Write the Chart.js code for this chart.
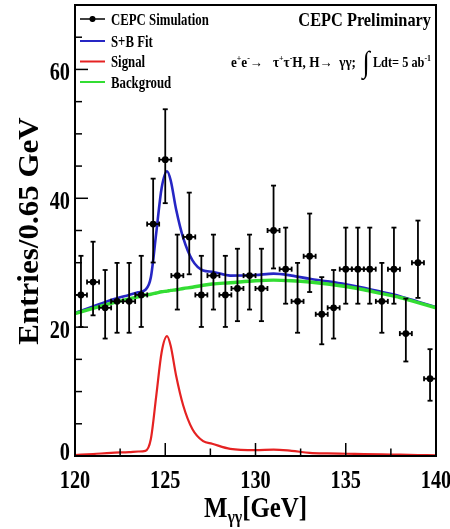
<!DOCTYPE html>
<html>
<head>
<meta charset="utf-8">
<script src="https://cdn.jsdelivr.net/npm/chart.js@4.4.0/dist/chart.umd.min.js"></script>
<style>
html, body { margin: 0; padding: 0; background: #fff; }
#wrap { width: 450px; height: 529px; }
</style>
</head>
<body>
<div id="wrap"><canvas id="massChart" width="450" height="529"></canvas></div>
<script>
const CHART = document.getElementById("massChart");

// simulated points, one per bin (GeV)
const binCenters = [120.33, 121.00, 121.67, 122.33, 123.00, 123.67, 124.33, 125.00, 125.67, 126.33,
                    127.00, 127.67, 128.33, 129.00, 129.67, 130.33, 131.00, 131.67, 132.33, 133.00,
                    133.67, 134.33, 135.00, 135.67, 136.33, 137.00, 137.67, 138.33, 139.00, 139.67];
const entries = [25, 27, 23, 24, 24, 25, 36, 46, 28, 34,
                 25, 28, 25, 26, 28, 26, 35, 29, 24, 31,
                 22, 23, 29, 29, 29, 24, 29, 19, 30, 12];
// poisson error bars
const errLow  = [4.97, 5.17, 4.77, 4.87, 4.87, 4.97, 5.97, 6.76, 5.27, 5.80,
                 4.97, 5.27, 4.97, 5.07, 5.27, 5.07, 5.89, 5.36, 4.87, 5.55,
                 4.66, 4.77, 5.36, 5.36, 5.36, 4.87, 5.36, 4.33, 5.46, 3.42];
const errHigh = [6.07, 6.26, 5.87, 5.97, 5.97, 6.07, 7.05, 7.82, 6.36, 6.88,
                 6.07, 6.36, 6.07, 6.17, 6.36, 6.17, 6.97, 6.45, 5.97, 6.63,
                 5.76, 5.87, 6.45, 6.45, 6.45, 5.97, 6.45, 5.43, 6.54, 4.58];
const binHalfWidth = 0.333;

// curves
const curveMass    = [120, 121, 122, 123, 123.5, 123.9, 124.2, 124.5, 124.8, 125.1, 125.3, 125.6, 126.0, 126.5,
                      127.1, 127.6, 128.6, 130, 131, 132, 133, 134, 135, 136, 137, 138, 139, 140];
const fitValues    = [22.2, 23.2, 24.2, 25.0, 25.4, 25.8, 27.7, 34.6, 41.6, 44.2, 42.8, 38.3, 33.8, 30.4,
                      28.8, 28.6, 28.0, 28.1, 28.3, 28.0, 27.5, 27.1, 26.65, 26.1, 25.45, 24.8, 23.95, 23.1];
const signalValues = [0.15, 0.3, 0.5, 0.6, 0.7, 0.8, 2.6, 9.3, 16.1, 18.6, 17.1, 12.5, 7.8, 4.2,
                      2.3, 1.9, 1.1, 0.9, 1.0, 0.8, 0.5, 0.4, 0.35, 0.3, 0.25, 0.2, 0.15, 0.1];
const bkgValues    = [22.1, 22.9, 23.7, 24.4, 24.7, 25.0, 25.1, 25.3, 25.5, 25.6, 25.7, 25.8, 26.0, 26.2,
                      26.5, 26.7, 26.9, 27.2, 27.3, 27.2, 27.0, 26.7, 26.3, 25.8, 25.2, 24.6, 23.8, 23.0];

const xTicks = [120, 125, 130, 135, 140];
const yTicks = [0, 20, 40, 60];
const xMinor = [122.5, 127.5, 132.5, 137.5];
const yMinor = [5, 10, 15, 25, 30, 35, 45, 50, 55, 65];

const legendOrder = ["CEPC Simulation", "S+B Fit", "Signal", "Backgroud"];

const BLUE = "#2626c4";
const RED = "#e52222";
const GREEN = "#33dd33";
const SERIF = '"Liberation Serif", "DejaVu Serif", serif';

function pts(xs, ys) {
  return xs.map((x, i) => ({x: x, y: ys[i]}));
}

function line(ctx, x1, y1, x2, y2) {
  ctx.beginPath();
  ctx.moveTo(x1, y1);
  ctx.lineTo(x2, y2);
  ctx.stroke();
}

// bold serif text squeezed sideways like the original
function squeezed(ctx, str, x, y, size, sx, align) {
  ctx.save();
  ctx.font = "bold " + size + "px " + SERIF;
  ctx.translate(x, y);
  ctx.scale(sx, 1);
  ctx.textAlign = align || "left";
  ctx.textBaseline = "alphabetic";
  ctx.fillText(str, 0, 0);
  ctx.restore();
}

// runs of text with sub/superscripts; anchor = left, right or center
function drawRuns(ctx, runs, x, baseline, sx, anchor) {
  let total = 0;
  runs.forEach(r => {
    ctx.font = "bold " + r.size + "px " + SERIF;
    r.w = ctx.measureText(r.t).width * sx;
    total += r.w;
  });
  let cx = x;
  if (anchor === "right") cx = x - total;
  if (anchor === "center") cx = x - total / 2;
  runs.forEach(r => {
    squeezed(ctx, r.t, cx, baseline + (r.dy || 0), r.size, sx, "left");
    cx += r.w;
  });
}

const rootStyle = {
  id: "rootStyle",
  afterDatasetsDraw(chart) {
    const ctx = chart.ctx;
    const xs = chart.scales.x, ys = chart.scales.y;
    ctx.save();
    ctx.strokeStyle = "#000";
    ctx.lineWidth = 1.8;
    binCenters.forEach((m, i) => {
      const px = xs.getPixelForValue(m);
      const py = ys.getPixelForValue(entries[i]);
      const top = ys.getPixelForValue(entries[i] + errHigh[i]);
      const bot = ys.getPixelForValue(entries[i] - errLow[i]);
      const l = xs.getPixelForValue(m - binHalfWidth);
      const r = xs.getPixelForValue(m + binHalfWidth);
      line(ctx, px, top, px, bot);
      line(ctx, px - 2.5, top, px + 2.5, top);
      line(ctx, px - 2.5, bot, px + 2.5, bot);
      line(ctx, l, py, r, py);
      line(ctx, l, py - 2.5, l, py + 2.5);
      line(ctx, r, py - 2.5, r, py + 2.5);
    });
    ctx.restore();
  },
  afterDraw(chart) {
    const ctx = chart.ctx;
    const a = chart.chartArea;
    const xs = chart.scales.x, ys = chart.scales.y;
    ctx.save();
    ctx.strokeStyle = "#000";
    ctx.fillStyle = "#000";

    // frame
    ctx.lineWidth = 2;
    ctx.strokeRect(a.left, a.top, a.right - a.left, a.bottom - a.top);

    // inward ticks
    ctx.lineWidth = 1.5;
    xs.ticks.forEach(t => { const p = xs.getPixelForValue(t.value); line(ctx, p, a.bottom, p, a.bottom - 13); });
    xMinor.forEach(v => { const p = xs.getPixelForValue(v); line(ctx, p, a.bottom, p, a.bottom - 7.5); });
    ys.ticks.forEach(t => { const p = ys.getPixelForValue(t.value); line(ctx, a.left, p, a.left + 13, p); });
    yMinor.forEach(v => { const p = ys.getPixelForValue(v); line(ctx, a.left, p, a.left + 7, p); });

    // tick labels
    xs.ticks.forEach(t => {
      squeezed(ctx, String(t.value), xs.getPixelForValue(t.value), a.bottom + 32, 26, 0.78, "center");
    });
    ys.ticks.forEach(t => {
      const p = ys.getPixelForValue(t.value);
      squeezed(ctx, String(t.value), a.left - 5, Math.min(p + 11, a.bottom + 4), 26, 0.78, "right");
    });

    // axis titles
    drawRuns(ctx, [
      {t: "M", size: 30},
      {t: "\u03b3\u03b3", size: 19, dy: 6},
      {t: "[GeV]", size: 30}
    ], (a.left + a.right) / 2, 517, 0.83, "center");

    ctx.save();
    ctx.translate(38, 231);
    ctx.rotate(-Math.PI / 2);
    ctx.scale(1, 0.92);
    ctx.font = "bold 31px " + SERIF;
    ctx.textAlign = "center";
    ctx.textBaseline = "alphabetic";
    ctx.fillText("Entries/0.65 GeV", 0, 0);
    ctx.restore();

    // header texts
    squeezed(ctx, "CEPC Preliminary", 431, 26, 19, 0.86, "right");
    drawRuns(ctx, [
      {t: "e", size: 15}, {t: "+", size: 9, dy: -6},
      {t: "e", size: 15}, {t: "-", size: 9, dy: -6},
      {t: "\u2192   ", size: 15},
      {t: "\u03c4", size: 15}, {t: "+", size: 9, dy: -6},
      {t: "\u03c4", size: 15}, {t: "-", size: 9, dy: -6},
      {t: "H, H\u2192  \u03b3\u03b3;  ", size: 15},
      {t: "\u222b", size: 30, dy: 5},
      {t: " Ldt= 5 ab", size: 14}, {t: "-1", size: 9, dy: -6}
    ], 431, 67, 0.88, "right");

    // legend
    const rows = [19, 41, 61.5, 82];
    legendOrder.forEach((label, i) => {
      const ds = chart.data.datasets.find(d => d.label === label);
      const y = rows[i];
      if (ds.showLine) {
        ctx.strokeStyle = ds.borderColor;
        ctx.lineWidth = 2;
        line(ctx, 80, y, 105, y);
      } else {
        ctx.strokeStyle = "#000";
        ctx.lineWidth = 1.5;
        line(ctx, 80, y, 105, y);
        line(ctx, 92.5, y - 3, 92.5, y + 3);
        ctx.beginPath();
        ctx.arc(92.5, y, 3, 0, Math.PI * 2);
        ctx.fill();
      }
      ctx.fillStyle = "#000";
      squeezed(ctx, label, 111, y + 5.5, 16, 0.8, "left");
    });
    ctx.restore();
  }
};

let massChart = new Chart(CHART, {
  type: "scatter",
  data: {
    datasets: [
      {
        label: "CEPC Simulation",
        data: pts(binCenters, entries),
        showLine: false,
        pointRadius: 3.4,
        pointBackgroundColor: "#000",
        pointBorderColor: "#000",
        pointBorderWidth: 0
      },
      {
        label: "Backgroud",
        data: pts(curveMass, bkgValues),
        showLine: true,
        borderColor: GREEN,
        borderWidth: 3.4,
        pointRadius: 0,
        cubicInterpolationMode: "monotone"
      },
      {
        label: "Signal",
        data: pts(curveMass, signalValues),
        showLine: true,
        borderColor: RED,
        borderWidth: 2.2,
        pointRadius: 0,
        cubicInterpolationMode: "monotone"
      },
      {
        label: "S+B Fit",
        data: pts(curveMass, fitValues),
        showLine: true,
        borderColor: BLUE,
        borderWidth: 2.6,
        pointRadius: 0,
        cubicInterpolationMode: "monotone"
      }
    ]
  },
  options: {
    responsive: false,
    animation: false,
    events: [],
    layout: { padding: { top: 5, right: 14, left: 0, bottom: 0 } },
    plugins: { legend: { display: false }, tooltip: { enabled: false } },
    scales: {
      x: {
        type: "linear",
        min: 120,
        max: 140,
        grid: { display: false, drawTicks: false },
        border: { display: false },
        ticks: { display: false },
        afterBuildTicks: s => { s.ticks = xTicks.map(v => ({value: v})); },
        afterFit: s => { s.height = 73; }
      },
      y: {
        type: "linear",
        min: 0,
        max: 70,
        grid: { display: false, drawTicks: false },
        border: { display: false },
        ticks: { display: false, includeBounds: false },
        afterBuildTicks: s => { s.ticks = yTicks.map(v => ({value: v})); },
        afterFit: s => { s.width = 75; }
      }
    }
  },
  plugins: [rootStyle]
});
</script>
</body>
</html>
